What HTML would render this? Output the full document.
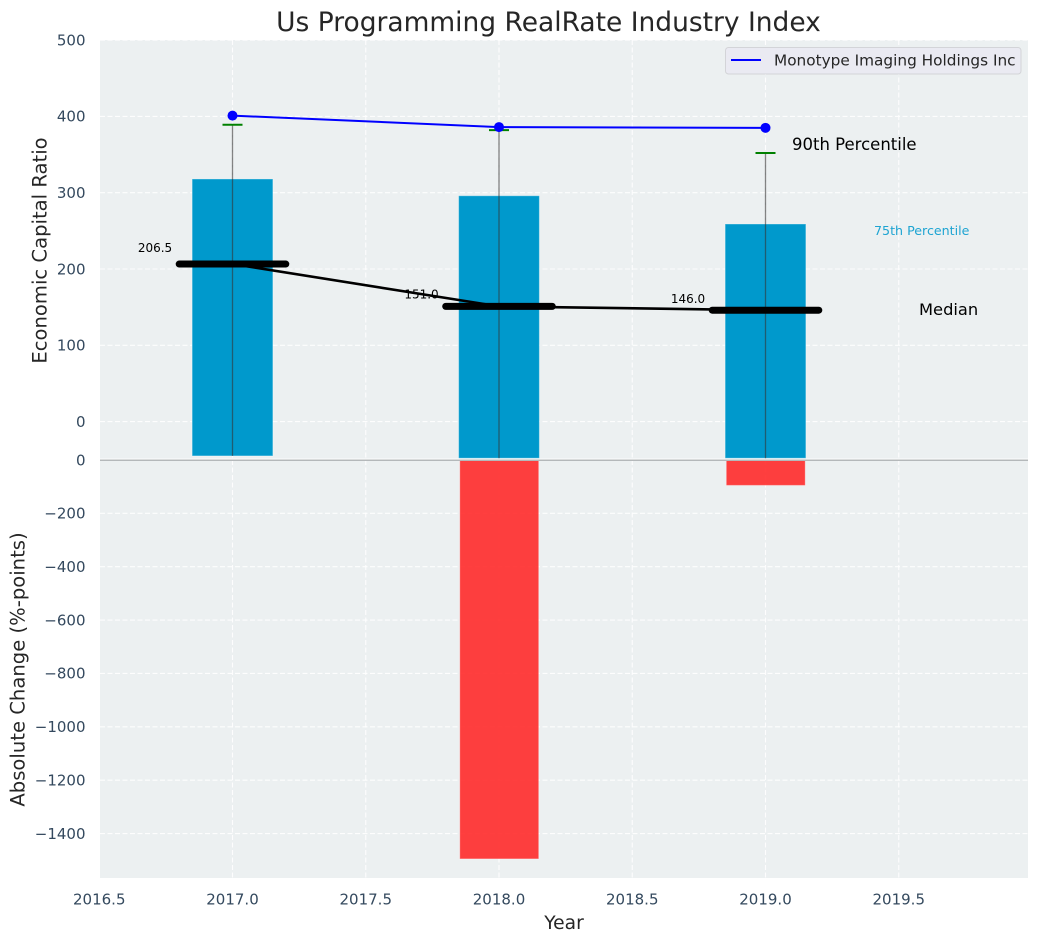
<!DOCTYPE html>
<html lang="en">
<head>
<meta charset="utf-8">
<title>Us Programming RealRate Industry Index</title>
<style>
html,body{margin:0;padding:0;background:#fff;}
svg{display:block;font-family:"DejaVu Sans","Liberation Sans",sans-serif;}
</style>
</head>
<body>
<svg id="chart" xmlns="http://www.w3.org/2000/svg" width="1039" height="942" viewBox="0 0 1039 942">
</svg>
<script>
const years = [2017, 2018, 2019];
const p25Values = [-45, -48, -48];
const p75Values = [318, 296, 259];
const p90Values = [389, 382, 352];
const medianValues = [206.5, 151, 146];
const companyValues = [401, 386, 385];
const changeYears = [2018, 2019];
const changeValues = [-1495, -95];
const xTicks = [2016.5, 2017, 2017.5, 2018, 2018.5, 2019, 2019.5];
const upperTicks = [0, 100, 200, 300, 400, 500];
const lowerTicks = [0, -200, -400, -600, -800, -1000, -1200, -1400];

const svg = document.getElementById('chart');
const NS = 'http://www.w3.org/2000/svg';
const plot = {left: 100, right: 1028, top: 40, mid: 459.6, bottom: 878};
const barWidth = 0.3;
const medianHalf = 0.2;
const gridDash = '5,2.5';

function x(v) { return 232.5 + (v - 2017) * 266.5; }
function yUpper(v) { return 421.6 - v * 0.763; }
function yLower(v) { return 460 - v * 0.2668; }

function make(tag, attrs, text) {
  const el = document.createElementNS(NS, tag);
  for (const k in attrs) el.setAttribute(k, attrs[k]);
  if (text !== undefined) el.textContent = text;
  svg.appendChild(el);
  return el;
}

let el;
el = make('rect', {x: plot.left, y: plot.top, width: plot.right - plot.left, height: plot.bottom - plot.top, fill: '#ecf0f1'});



xTicks.forEach(function (t) {
  el = make('line', {x1: x(t), x2: x(t), y1: plot.top, y2: plot.bottom, stroke: '#ffffff', 'stroke-width': 1.1, 'stroke-dasharray': gridDash, opacity: 0.9});
  
  
  el = make('text', {x: x(t), y: 904.5, 'text-anchor': 'middle', 'font-size': 15, fill: '#34495e'}, t.toFixed(1));
  
  
});

upperTicks.forEach(function (t) {
  el = make('line', {x1: plot.left, x2: plot.right, y1: yUpper(t), y2: yUpper(t), stroke: '#ffffff', 'stroke-width': 1.1, 'stroke-dasharray': gridDash, opacity: 0.9});
  
  
  el = make('text', {x: 85.5, y: yUpper(t) + 5.3, 'text-anchor': 'end', 'font-size': 15, fill: '#34495e'}, String(t));
  
  
});

lowerTicks.forEach(function (t) {
  el = make('line', {x1: plot.left, x2: plot.right, y1: yLower(t), y2: yLower(t), stroke: '#ffffff', 'stroke-width': 1.1, 'stroke-dasharray': gridDash, opacity: 0.9});
  
  
  el = make('text', {x: 85.5, y: yLower(t) + 5.3, 'text-anchor': 'end', 'font-size': 15, fill: '#34495e'}, String(t).replace('-', '\u2212'));
  
  
});

years.forEach(function (yr, i) {
  const top = yUpper(p75Values[i]);
  const base = Math.min(yUpper(p25Values[i]), plot.mid - 1);
  el = make('rect', {x: x(yr - barWidth / 2) - 0.4, y: top, width: x(yr + barWidth / 2) - x(yr - barWidth / 2) + 0.8, height: base - top, fill: '#0099cc', stroke: '#ffffff', 'stroke-opacity': 0.35, 'stroke-width': 1});
  
  
});

changeYears.forEach(function (yr, i) {
  el = make('rect', {x: x(yr - barWidth / 2) + 0.8, y: yLower(0), width: x(yr + barWidth / 2) - x(yr - barWidth / 2) - 1.1, height: yLower(changeValues[i]) - yLower(0), fill: '#ff2a2a', 'fill-opacity': 0.9, stroke: '#ffffff', 'stroke-opacity': 0.25, 'stroke-width': 1});
  
  
});

el = make('rect', {x: plot.left, y: 458.6, width: plot.right - plot.left, height: 1, fill: '#ffffff'});


el = make('line', {x1: plot.left, x2: plot.right, y1: 460.2, y2: 460.2, stroke: '#b4b8ba', 'stroke-width': 1.5});



years.forEach(function (yr, i) {
  el = make('line', {x1: x(yr), x2: x(yr), y1: Math.min(yUpper(p25Values[i]), plot.mid - 1), y2: yUpper(p90Values[i]), stroke: '#333333', 'stroke-opacity': 0.6, 'stroke-width': 1.3});
  
  
  el = make('line', {x1: x(yr) - 10, x2: x(yr) + 10, y1: yUpper(p90Values[i]), y2: yUpper(p90Values[i]), stroke: '#008000', 'stroke-width': 2});
  
  
});

el = make('polyline', {points: years.map(function (yr, i) { return x(yr) + ',' + yUpper(medianValues[i]); }).join(' '), fill: 'none', stroke: '#000000', 'stroke-width': 2.6});



years.forEach(function (yr, i) {
  el = make('line', {x1: x(yr - medianHalf), x2: x(yr + medianHalf), y1: yUpper(medianValues[i]), y2: yUpper(medianValues[i]), stroke: '#000000', 'stroke-width': 7, 'stroke-linecap': 'round'});
  
  
  el = make('text', {x: x(yr) - 60.3, y: yUpper(medianValues[i] * 1.1) + 3.7, 'text-anchor': 'end', 'font-size': 12, fill: '#000000'}, medianValues[i].toFixed(1));
  
  
});

el = make('polyline', {points: years.map(function (yr, i) { return x(yr) + ',' + yUpper(companyValues[i]); }).join(' '), fill: 'none', stroke: '#0000ff', 'stroke-width': 2});


years.forEach(function (yr, i) {
  el = make('circle', {cx: x(yr), cy: yUpper(companyValues[i]), r: 5, fill: '#0000ff'});
  
  
});

el = make('text', {x: 792, y: 150, 'font-size': 16.5, fill: '#000000'}, '90th Percentile');


el = make('text', {x: 874, y: 235, 'font-size': 12.65, fill: '#1ea4d2'}, '75th Percentile');


el = make('text', {x: 919, y: 315, 'font-size': 16.3, fill: '#000000'}, 'Median');



el = make('rect', {x: 725.5, y: 47.5, width: 295.5, height: 26.5, rx: 3, ry: 3, fill: '#eaeaf2', stroke: '#d3d4d8', 'stroke-width': 1});


el = make('line', {x1: 731, x2: 761, y1: 60, y2: 60, stroke: '#0000ff', 'stroke-width': 2});


el = make('text', {x: 774, y: 65.7, 'font-size': 15.3, fill: '#262626'}, 'Monotype Imaging Holdings Inc');



el = make('text', {x: 548.5, y: 31, 'text-anchor': 'middle', 'font-size': 26.47, fill: '#262626'}, 'Us Programming RealRate Industry Index');


el = make('text', {x: 564, y: 929, 'text-anchor': 'middle', 'font-size': 18.67, fill: '#262626'}, 'Year');


el = make('text', {x: 0, y: 0, 'text-anchor': 'middle', 'font-size': 19.6, fill: '#262626', transform: 'translate(46.5 250.5) rotate(-90)'}, 'Economic Capital Ratio');


el = make('text', {x: 0, y: 0, 'text-anchor': 'middle', 'font-size': 19.6, fill: '#262626', transform: 'translate(24.5 669.5) rotate(-90)'}, 'Absolute Change (%-points)');


</script>
</body>
</html>
